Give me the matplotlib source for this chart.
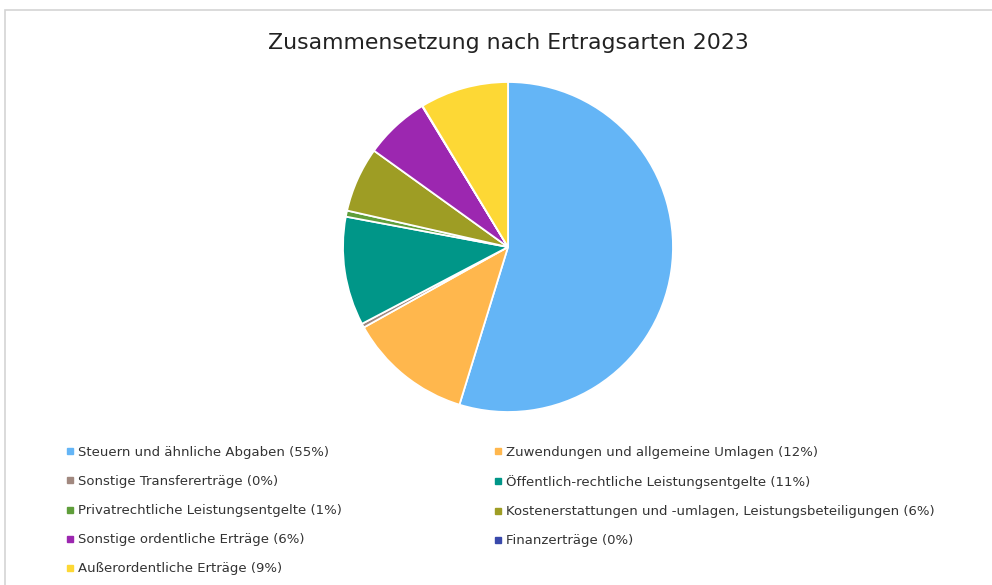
import matplotlib.pyplot as plt
from matplotlib.lines import Line2D
from matplotlib.patches import Rectangle

categories = [
    'Steuern und ähnliche Abgaben',
    'Zuwendungen und allgemeine Umlagen',
    'Sonstige Transfererträge',
    'Öffentlich-rechtliche Leistungsentgelte',
    'Privatrechtliche Leistungsentgelte',
    'Kostenerstattungen und -umlagen, Leistungsbeteiligungen',
    'Sonstige ordentliche Erträge',
    'Finanzerträge',
    'Außerordentliche Erträge',
]
shares = [55.0, 12.2, 0.4, 10.7, 0.6, 6.4, 6.4, 0.05, 8.7]
pct_labels = ['55%', '12%', '0%', '11%', '1%', '6%', '6%', '0%', '9%']
colors = ['#64b5f6', '#ffb74d', '#a1887f', '#009688', '#5f9e3a',
          '#9e9d24', '#9c27b0', '#3949ab', '#fdd835']

W, H = 992, 585
fig = plt.figure(figsize=(W / 100, H / 100), dpi=100)

# light frame around the chart area
fig.patches.append(Rectangle((5 / W, -0.01), 1.0, (H - 10) / H + 0.01,
                             transform=fig.transFigure, fill=False,
                             edgecolor='#d4d4d4', linewidth=1.2))

fig.text(508 / W, 1 - 43 / H, 'Zusammensetzung nach Ertragsarten 2023',
         ha='center', va='center', fontsize=15.8, color='#222222')

cx, cy, r = 508, 247, 165
ax = fig.add_axes([(cx - r) / W, (H - cy - r) / H, 2 * r / W, 2 * r / H])
ax.pie(shares, colors=colors, startangle=90, counterclock=False,
       wedgeprops=dict(edgecolor='white', linewidth=1.3))
ax.set_xlim(-1, 1)
ax.set_ylim(-1, 1)
ax.set_aspect('equal')
ax.axis('off')

handles = [Line2D([], [], marker='s', linestyle='none', markersize=4,
                  markerfacecolor=c, markeredgecolor=c) for c in colors]
labels = [f'{c} ({p})' for c, p in zip(categories, pct_labels)]

common = dict(frameon=False, fontsize=9.5, labelspacing=1.22,
              handletextpad=0.3, handlelength=0.6, borderpad=0,
              borderaxespad=0, labelcolor='#333333')
leg1 = fig.legend(handles[0::2], labels[0::2], loc='upper left',
                  bbox_to_anchor=(66 / W, 1 - 446 / H), **common)
leg2 = fig.legend(handles[1::2], labels[1::2], loc='upper left',
                  bbox_to_anchor=(494 / W, 1 - 446 / H), **common)

fig.savefig('out.png', dpi=100)
